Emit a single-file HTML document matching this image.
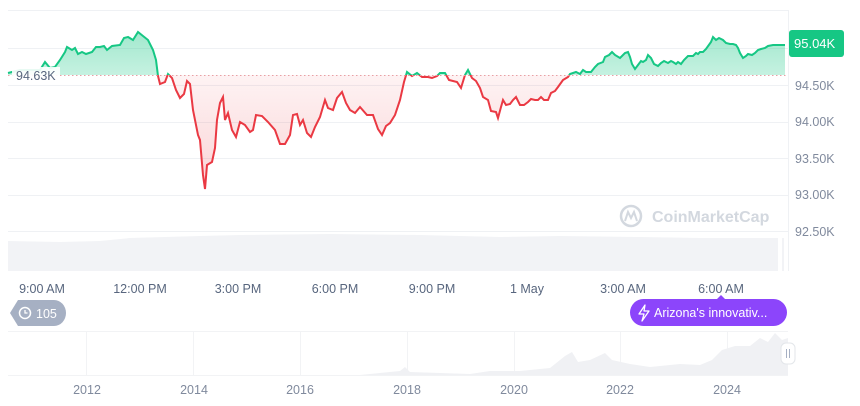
<!DOCTYPE html>
<html><head><meta charset="utf-8"><style>
body{margin:0;background:#fff;width:860px;height:401px;overflow:hidden;font-family:"Liberation Sans",sans-serif}
</style></head><body>
<svg width="860" height="401" viewBox="0 0 860 401" xmlns="http://www.w3.org/2000/svg">
<defs>
<linearGradient id="gg" x1="0" y1="0" x2="0" y2="1"><stop offset="0" stop-color="#16c784" stop-opacity="0.4"/><stop offset="1" stop-color="#16c784" stop-opacity="0.2"/></linearGradient>
<linearGradient id="rg" x1="0" y1="75" x2="0" y2="190" gradientUnits="userSpaceOnUse"><stop offset="0" stop-color="#ea3943" stop-opacity="0.06"/><stop offset="1" stop-color="#ea3943" stop-opacity="0.22"/></linearGradient>
<clipPath id="top"><rect x="0" y="0" width="860" height="75"/></clipPath>
<clipPath id="bot"><rect x="0" y="75" width="860" height="200"/></clipPath>
<path id="p" d="M8,73 L20,70 L40,70 L45,62 L50,68 L55,67 L60,60 L65,52 L67,47 L72,50 L75,48 L78,54 L82,52 L86,54 L92,52 L96,47 L100,47 L104,46 L107,50 L112,46 L120,45 L124,38 L128,37 L133,40 L138,32 L143,36 L148,40 L153,50 L156,60 L158,76 L160,84 L165,82 L168,74 L172,78 L176,90 L180,98 L184,94 L187,81 L190,84 L193,110 L198,135 L200,140 L203,175 L205,189 L207,165 L212,162 L215,148 L217,120 L220,103 L223,97 L225,120 L228,113 L232,130 L236,137 L240,122 L245,125 L250,132 L253,130 L256,115 L262,116 L268,122 L275,130 L280,144 L285,144 L290,135 L293,115 L297,114 L300,125 L303,120 L307,133 L311,137 L315,127 L320,117 L325,100 L328,108 L333,110 L337,98 L342,92 L346,103 L350,110 L355,113 L360,107 L367,115 L373,115 L378,129 L382,135 L386,126 L390,123 L395,115 L400,100 L404,82 L407,72 L412,76 L417,73 L422,77 L428,77 L432,78 L437,76 L440,73 L445,73 L449,80 L457,82 L461,88 L465,75 L468,70 L472,78 L476,81 L480,88 L483,97 L488,100 L491,111 L496,112 L498,118 L501,107 L503,100 L506,105 L510,104 L513,100 L516,97 L520,105 L524,105 L528,102 L531,99 L535,100 L538,100 L541,97 L544,100 L548,100 L551,93 L555,91 L558,87 L563,80 L568,77 L570,74 L576,72 L580,74 L583,70 L586,72 L591,72 L595,67 L598,64 L603,62 L605,57 L609,55 L612,52 L615,55 L620,58 L625,53 L628,52 L630,57 L632,64 L635,69 L638,65 L641,61 L643,62 L646,60 L648,55 L651,58 L654,64 L658,66 L661,63 L664,61 L668,63 L671,61 L673,62 L676,64 L678,62 L681,64 L684,60 L688,56 L693,56 L696,53 L698,54 L700,52 L703,52 L706,49 L711,42 L713,37 L716,40 L719,38 L723,40 L726,43 L730,44 L733,44 L736,45 L738,48 L740,53 L743,58 L746,56 L748,54 L752,55 L755,53 L758,50 L761,49 L765,48 L768,46 L773,45 L785,45"/>
</defs>
<g stroke="#eff1f4" stroke-width="1">
<line x1="8" y1="10.5" x2="788" y2="10.5"/>
<line x1="8" y1="48.5" x2="788" y2="48.5"/>
<line x1="8" y1="85.5" x2="788" y2="85.5"/>
<line x1="8" y1="122.5" x2="788" y2="122.5"/>
<line x1="8" y1="158.5" x2="788" y2="158.5"/>
<line x1="8" y1="195.5" x2="788" y2="195.5"/>
<line x1="8" y1="231.5" x2="788" y2="231.5"/>
<line x1="788.5" y1="10" x2="788.5" y2="271"/>
</g>
<path d="M8,271 L8,241 L60,242 L100,241 L130,238 L200,236 L240,235 L330,234 L420,235 L500,237 L560,236 L640,237 L700,238 L778,238 L778,271 Z" fill="#f2f3f6"/>
<rect x="782" y="238" width="2" height="33" fill="#f2f3f6"/>
<text x="652" y="222" font-size="16" font-weight="bold" fill="#d3d8df">CoinMarketCap</text>
<circle cx="631" cy="216" r="10" fill="none" stroke="#d3d8df" stroke-width="2.5"/>
<path d="M625,221 L628,212 L631,218 L634,212 L637,221" fill="none" stroke="#d3d8df" stroke-width="2"/>
<g clip-path="url(#top)">
<path d="M8,73 L20,70 L40,70 L45,62 L50,68 L55,67 L60,60 L65,52 L67,47 L72,50 L75,48 L78,54 L82,52 L86,54 L92,52 L96,47 L100,47 L104,46 L107,50 L112,46 L120,45 L124,38 L128,37 L133,40 L138,32 L143,36 L148,40 L153,50 L156,60 L158,76 L160,84 L785,84 L785,45 L773,45 L768,46 L765,48 L761,49 L758,50 L755,53 L752,55 L748,54 L746,56 L743,58 L740,53 L738,48 L736,45 L733,44 L730,44 L726,43 L723,40 L719,38 L716,40 L713,37 L711,42 L706,49 L703,52 L700,52 L698,54 L696,53 L693,56 L688,56 L684,60 L681,64 L678,62 L676,64 L673,62 L671,61 L668,63 L664,61 L661,63 L658,66 L654,64 L651,58 L648,55 L646,60 L643,62 L641,61 L638,65 L635,69 L632,64 L630,57 L628,52 L625,53 L620,58 L615,55 L612,52 L609,55 L605,57 L603,62 L598,64 L595,67 L591,72 L586,72 L583,70 L580,74 L576,72 L570,74 L568,77 L400,77 L404,82 L407,72 L412,76 L417,73 L422,77 L428,77 L432,78 L437,76 L440,73 L445,73 L449,80 L461,88 L465,75 L468,70 L472,78 L476,81 L160,81 L8,81 Z" fill="url(#gg)"/>
<use href="#p" fill="none" stroke="#16c784" stroke-width="2"/></g>
<g clip-path="url(#bot)"><use href="#p" fill="url(#rg)" stroke="none"/>
<use href="#p" fill="none" stroke="#ea3943" stroke-width="2"/></g>
<line x1="8" y1="75.5" x2="788" y2="75.5" stroke="#e8a0a5" stroke-width="1" stroke-dasharray="1.5,2.5"/>
<rect x="12" y="67" width="48" height="17" fill="#fff" fill-opacity="0.9"/>
<text x="16" y="80" font-size="12.5" fill="#58667e">94.63K</text>
<g font-size="12.5" fill="#808a9d">
<text x="795" y="90">94.50K</text><text x="795" y="126">94.00K</text><text x="795" y="163">93.50K</text><text x="795" y="199">93.00K</text><text x="795" y="236">92.50K</text>
</g>
<rect x="789" y="30" width="55" height="27" rx="3" fill="#16c784"/>
<text x="794" y="48" font-size="13" fill="#fff">95.04K</text>
<g font-size="12.5" fill="#58667e" text-anchor="middle">
<text x="42" y="293">9:00 AM</text><text x="140" y="293">12:00 PM</text><text x="238" y="293">3:00 PM</text><text x="335" y="293">6:00 PM</text><text x="432" y="293">9:00 PM</text><text x="527" y="293">1 May</text><text x="623" y="293">3:00 AM</text><text x="721" y="293">6:00 AM</text>
</g>
<path d="M18,300 H54 A12,13 0 0 1 54,326 H18 L10,313 Z" fill="#a6b0c3"/>
<circle cx="25" cy="313" r="5.5" fill="none" stroke="#fff" stroke-width="1.5"/>
<path d="M25,310 V313 H27.5" stroke="#fff" stroke-width="1.3" fill="none"/>
<text x="36" y="318" font-size="12.5" fill="#fff">105</text>
<path d="M717,299 L721,295 L725,299 Z" fill="#8c45fb"/>
<rect x="630" y="299" width="157" height="27" rx="13.5" fill="#8c45fb"/>
<path d="M645,305 L639,314 H644 L642,321 L649,311 H644 Z" fill="none" stroke="#fff" stroke-width="1.3" stroke-linejoin="round"/>
<text x="654" y="317" font-size="12.5" fill="#fff">Arizona's innovativ...</text>
<g stroke="#f2f3f5"><line x1="8" y1="331.5" x2="788" y2="331.5"/><line x1="8" y1="375.5" x2="788" y2="375.5"/>
<line x1="86.5" y1="332" x2="86.5" y2="375"/><line x1="193.5" y1="332" x2="193.5" y2="375"/><line x1="300.5" y1="332" x2="300.5" y2="375"/><line x1="407.5" y1="332" x2="407.5" y2="375"/><line x1="514.5" y1="332" x2="514.5" y2="375"/><line x1="620.5" y1="332" x2="620.5" y2="375"/><line x1="727.5" y1="332" x2="727.5" y2="375"/></g>
<path d="M8,375 L360,375 L380,373 L400,371 L405,367 L410,372 L440,373 L470,374 L490,371 L520,371 L550,368 L565,356 L572,352 L578,362 L590,360 L605,353 L612,360 L630,364 L650,367 L680,364 L700,365 L712,360 L722,350 L735,346 L750,346 L760,338 L768,342 L775,333 L782,340 L788,338 L788,375 Z" fill="#f0f1f4"/>
<rect x="781" y="343" width="14" height="21" rx="5" fill="#fff" stroke="#e3e6ea"/>
<line x1="786.5" y1="349" x2="786.5" y2="358" stroke="#a6b0c3"/><line x1="789.5" y1="349" x2="789.5" y2="358" stroke="#a6b0c3"/>
<g font-size="12.5" fill="#808a9d" text-anchor="middle">
<text x="87" y="394">2012</text><text x="194" y="394">2014</text><text x="300" y="394">2016</text><text x="407" y="394">2018</text><text x="514" y="394">2020</text><text x="620" y="394">2022</text><text x="727" y="394">2024</text>
</g>
</svg>
</body></html>
